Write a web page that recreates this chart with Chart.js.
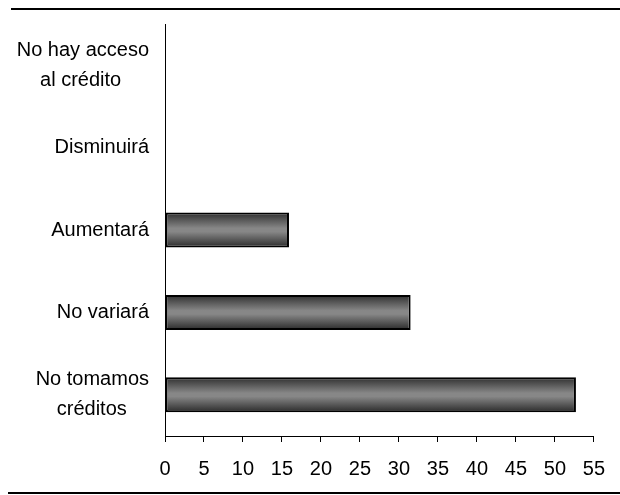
<!DOCTYPE html>
<html>
<head>
<meta charset="utf-8">
<script src="https://cdn.jsdelivr.net/npm/chart.js@4.4.1/dist/chart.umd.min.js"></script>
<style>
  html, body { margin: 0; padding: 0; background: #fff; }
  #wrap { position: relative; width: 620px; height: 495px; }
  #chart { position: absolute; left: 0; top: 0; }
  .rule { position: absolute; height: 2px; background: #000; }
</style>
</head>
<body>
<div id="wrap">
  <canvas id="chart" width="620" height="495"></canvas>
  <div class="rule" style="left:11px; top:8px; width:609px;"></div>
  <div class="rule" style="left:8px; top:492px; width:612px;"></div>
</div>
<script>
// Categories, top to bottom
const categories = [
    ['No hay acceso', 'al crédito'],
    'Disminuirá',
    'Aumentará',
    'No variará',
    ['No tomamos', 'créditos']
];
const values = [0, 0, 15.9, 31.5, 52.7];
const xTicks = [0, 5, 10, 15, 20, 25, 30, 35, 40, 45, 50, 55];

const FONT_FAMILY = "'Liberation Sans Narrow', 'Arial Narrow', 'Liberation Sans', Arial, sans-serif";
const FONT_SIZE = 20;

// measure helper so multi-line labels get centred lines inside a right-aligned block
const measureCtx = document.createElement('canvas').getContext('2d');
measureCtx.font = FONT_SIZE + 'px ' + FONT_FAMILY;
function centreLines(label) {
    if (!Array.isArray(label)) return label;
    const widths = label.map(l => measureCtx.measureText(l).width);
    const widest = Math.max(...widths);
    const spaceW = measureCtx.measureText(' ').width;
    return label.map((l, i) => l + ' '.repeat(Math.round((widest - widths[i]) / 2 / spaceW)));
}

// vertical shading of each bar, built from the bar's own band on the y scale
function barFill(context) {
    const chart = context.chart;
    const yScale = chart.scales.y;
    if (!yScale || !chart.chartArea) return '#666';
    const centre = yScale.getPixelForValue(context.dataIndex);
    const half = (yScale.height / categories.length) * context.dataset.barPercentage / 2;
    const g = chart.ctx.createLinearGradient(0, centre - half, 0, centre + half);
    g.addColorStop(0, '#2e2e2e');
    g.addColorStop(0.45, '#878787');
    g.addColorStop(0.55, '#878787');
    g.addColorStop(1, '#2a2a2a');
    return g;
}

const ctx = document.getElementById('chart').getContext('2d');
new Chart(ctx, {
    type: 'bar',
    data: {
        labels: categories,
        datasets: [{
            data: values,
            backgroundColor: barFill,
            borderColor: '#000',
            borderWidth: 2,
            borderSkipped: false,
            barPercentage: 0.425,
            categoryPercentage: 1
        }]
    },
    options: {
        indexAxis: 'y',
        responsive: false,
        animation: false,
        layout: { padding: { left: 10, top: 24, right: 23, bottom: 0 } },
        plugins: {
            legend: { display: false },
            tooltip: { enabled: false }
        },
        scales: {
            x: {
                type: 'linear',
                min: 0,
                max: 55,
                afterBuildTicks: scale => { scale.ticks = xTicks.map(v => ({ value: v })); },
                afterFit: scale => { scale.height = 59; },
                grid: { drawOnChartArea: false, drawTicks: true, tickLength: 6, color: '#000' },
                border: { color: '#000', width: 1 },
                ticks: {
                    color: '#000',
                    padding: 15,
                    maxRotation: 0,
                    font: { family: FONT_FAMILY, size: FONT_SIZE }
                }
            },
            y: {
                type: 'category',
                afterFit: scale => {
                    scale.width = 155;
                    scale.paddingTop = 0;
                    scale.paddingBottom = 0;
                },
                grid: { display: false, tickLength: 0 },
                border: { display: true, color: '#000', width: 1 },
                ticks: {
                    color: '#000',
                    padding: 16,
                    crossAlign: 'near',
                    callback: function (value, index) { return centreLines(categories[index]); },
                    font: { family: FONT_FAMILY, size: FONT_SIZE, lineHeight: 1.5 }
                }
            }
        }
    }
});
</script>
</body>
</html>
